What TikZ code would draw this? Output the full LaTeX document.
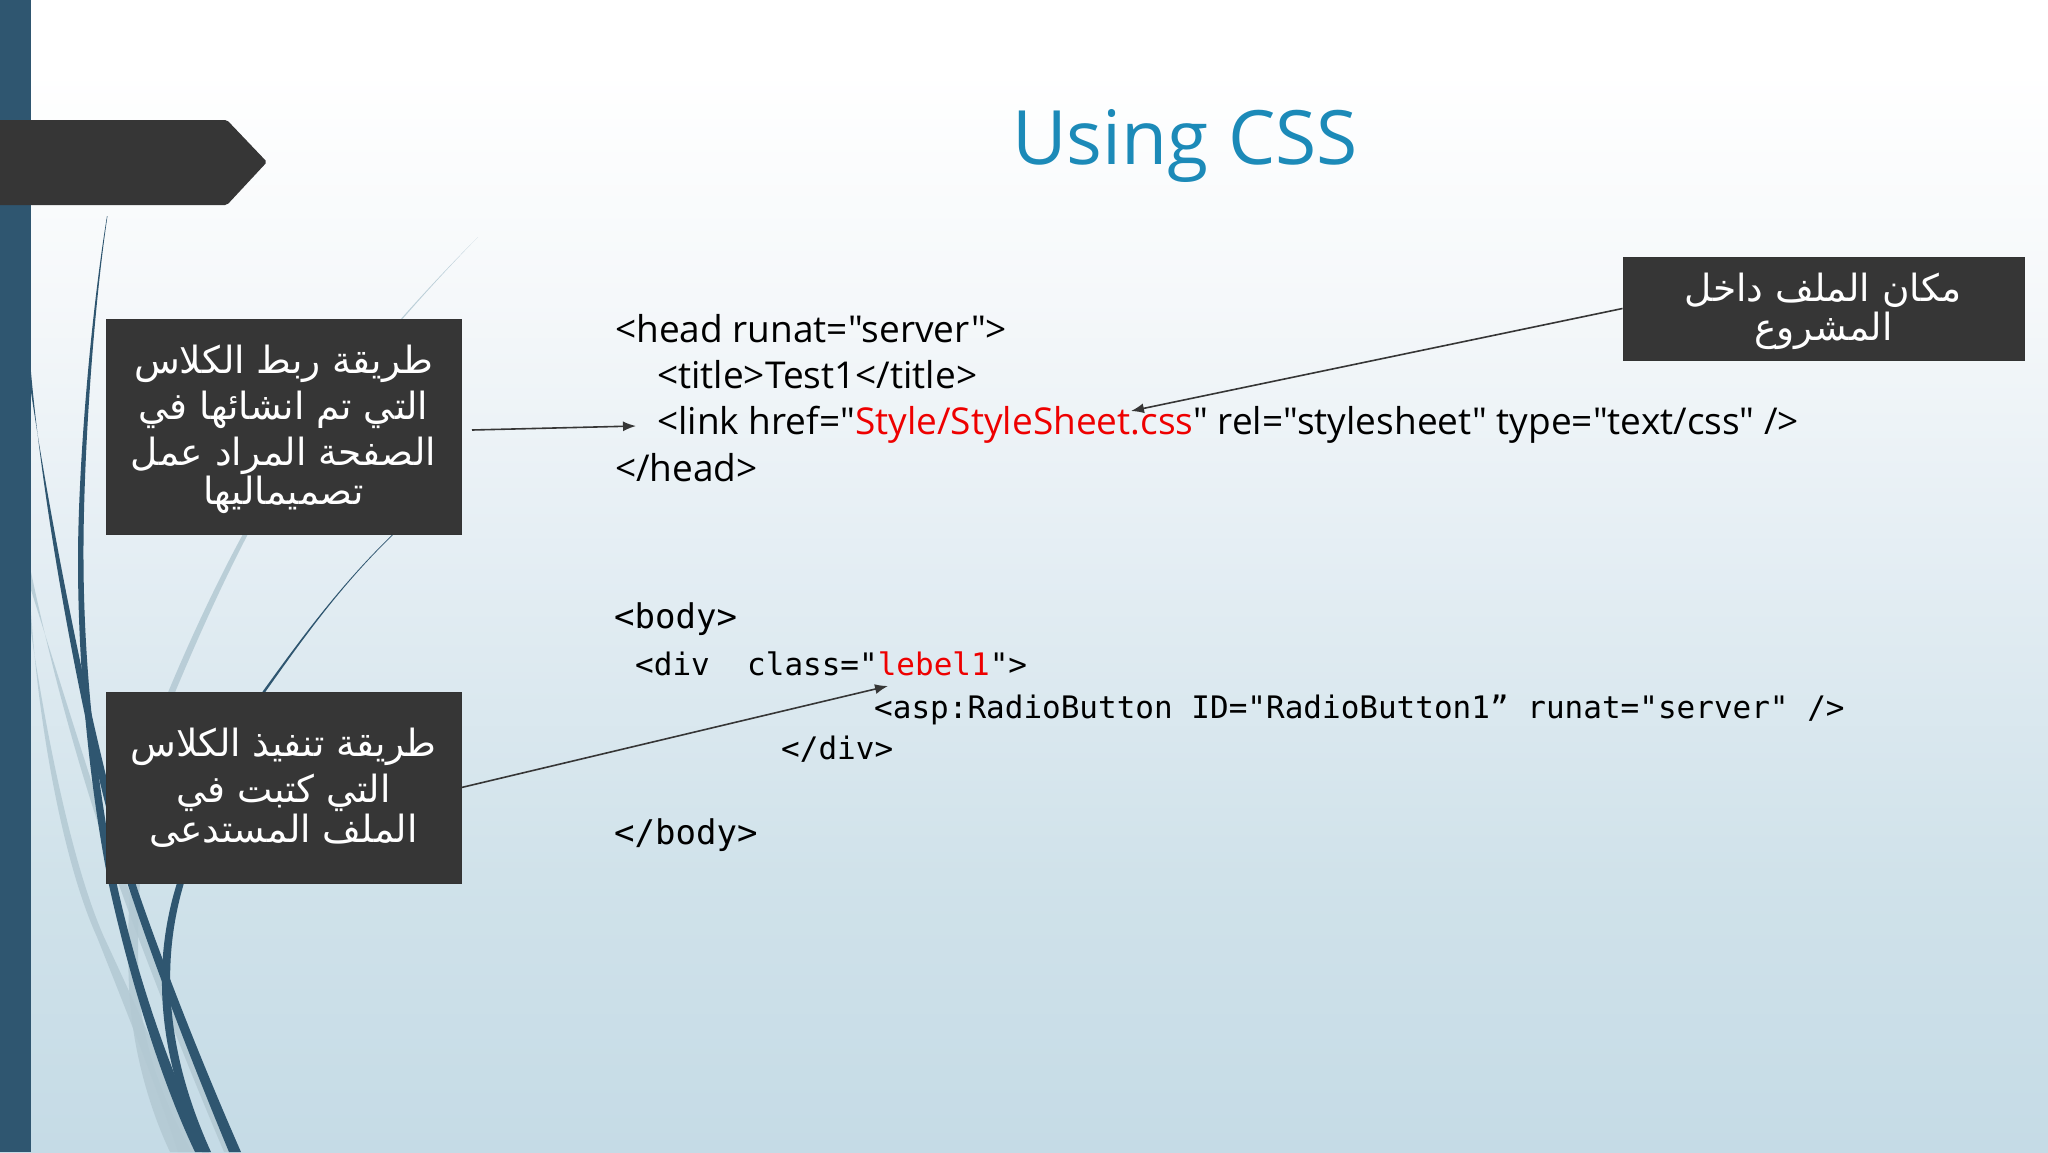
\documentclass[tikz,border=0pt]{standalone}
\usepackage{fontspec}
\usetikzlibrary{arrows.meta}
\setmainfont{Open Sans}
\newfontfamily\arabicfont[Script=Arabic]{DejaVu Sans}
\newfontfamily\codefont{Open Sans}
\newfontfamily\monofont{DejaVu Sans Mono}
\TeXXeTstate=1
\definecolor{barblue}{HTML}{2F5670}
\definecolor{lightcurve}{HTML}{B3C9D3}
\definecolor{boxdark}{HTML}{363636}
\definecolor{titleblue}{HTML}{1C8AB8}
\definecolor{codered}{HTML}{EE0000}
\definecolor{b0}{HTML}{C5DBE6}
\definecolor{b1}{HTML}{D0E2EA}
\definecolor{b2}{HTML}{E3EDF3}
\definecolor{b3}{HTML}{F5F8FA}
\pgfdeclareverticalshading{slidebg}{100bp}{color(0bp)=(b0); color(25bp)=(b0); color(37bp)=(b1); color(50bp)=(b2); color(62bp)=(b3); color(72bp)=(white); color(100bp)=(white)}
\tikzset{
  msgbox/.style={draw=black!80,fill=boxdark,text=white,line width=1pt,inner sep=0pt,minimum width=355pt,align=center,
    font=\fontsize{37.5}{46}\arabicfont},
  codeline/.style={anchor=base west,inner sep=0pt,text=black,font=\fontsize{37}{40}\codefont},
  monoline/.style={anchor=base west,inner sep=0pt,text=black,font=\fontsize{31}{36}\monofont},
  monobig/.style={monoline,font=\fontsize{34}{36}\monofont},
  conn/.style={draw=boxdark,line width=1.6pt,-{Latex[length=13pt,width=10pt]}},
  curvedark/.style={fill=barblue},
  curvelight/.style={fill=lightcurve,fill opacity=.85}
}
\begin{document}
\begin{tikzpicture}[x=1pt,y=-1pt]
\useasboundingbox (0,0) rectangle (2048,1152);
\clip (0,0) rectangle (2048,1152);
\shade[shading=slidebg] (0,0) rectangle (2048,1152);
% light curves
\fill[curvelight] (478,237) .. controls (400,315) and (300,430) .. (243,534) .. controls (218,580) and (192,635) .. (169,690) .. controls (142,760) and (124,870) .. (129,987) .. controls (132,1050) and (150,1110) .. (170,1152) -- (192,1152) .. controls (168,1110) and (142,1050) .. (139,987) .. controls (134,870) and (150,760) .. (176,690) .. controls (199,635) and (224,580) .. (248,534) .. controls (303,430) and (402,315) .. (478,237) -- cycle;
\fill[curvelight] (31,572) .. controls (58,700) and (92,810) .. (119,885) .. controls (146,960) and (185,1060) .. (224,1152) -- (238,1152) .. controls (196,1060) and (156,960) .. (127,885) .. controls (99,810) and (66,700) .. (31,590) -- cycle;
\fill[curvelight] (31,612) .. controls (38,720) and (62,860) .. (97,937) .. controls (126,1010) and (158,1090) .. (178,1152) -- (200,1152) .. controls (174,1090) and (138,1010) .. (104,937) .. controls (70,860) and (44,720) .. (31,632) -- cycle;
% dark curves
\fill[curvedark] (107,216) .. controls (90,320) and (78,470) .. (78,560) .. controls (78,700) and (96,820) .. (109,885) .. controls (131,985) and (163,1085) .. (195,1152) -- (209,1152) .. controls (175,1085) and (139,985) .. (117,885) .. controls (104,820) and (84,700) .. (83.5,560) .. controls (83,470) and (92,320) .. (107.5,216) -- cycle;
\fill[curvedark] (31,372) .. controls (44,520) and (88,760) .. (128,885) .. controls (156,970) and (195,1070) .. (229,1152) -- (241,1152) .. controls (205,1070) and (165,970) .. (136,885) .. controls (96,760) and (50,520) .. (31,392) -- cycle;
\fill[curvedark] (393,534) .. controls (340,585) and (300,640) .. (263,691) .. controls (224,750) and (193,830) .. (177,883) .. controls (156,950) and (151,1040) .. (202,1152) -- (211,1152) .. controls (160,1040) and (164,950) .. (184,883) .. controls (199,830) and (228,750) .. (266,691) .. controls (302,640) and (341,585) .. (394,534) -- cycle;
% bar and pentagon
\fill[barblue] (0,0) rectangle (31,1152);
\fill[boxdark,rounded corners=2pt] (-5,120) -- (227,120) -- (267,162) -- (227,205) -- (-5,205) -- cycle;
% title
\node[anchor=base,inner sep=0pt,text=titleblue,font=\fontsize{75}{80}\selectfont] (title) at (1185,164) {Using CSS};
% boxes
\node[msgbox,minimum height=215pt] (box1) at (283.5,426.5) {\rule{0pt}{34pt}\beginR طريقة ربط الكلاس\endR\\\beginR التي تم انشائها في\endR\\\beginR الصفحة المراد عمل\endR\\[-7pt]\beginR تصميماليها\endR};
\node[msgbox,minimum height=191pt] (box2) at (283.5,787.5) {\beginR طريقة تنفيذ الكلاس\endR\\\beginR التي كتبت في\endR\\[-6pt]\beginR الملف المستدعى\endR};
\node[msgbox,minimum width=401pt,minimum height=103pt,font=\fontsize{37.5}{39}\arabicfont] (box3) at (1823.5,308.5) {\rule{0pt}{34pt}\beginR مكان الملف داخل\endR\\\beginR المشروع\endR};
% code
\node[codeline] (h1) at (615,342) {<head runat="server">};
\node[codeline] (h2) at (657,388) {<title>Test1</title>};
\node[codeline] (h3) at (657,434) {<link href="\textcolor{codered}{Style/StyleSheet.css}" rel="stylesheet" type="text/css" />};
\node[codeline] (h4) at (615,481) {</head>};
\node[monobig] (b1) at (614,628) {<body>};
\node[monoline] (b2) at (635,675) {<div\ \ class="\textcolor{codered}{lebel1}">};
\node[monoline] (b3) at (874,718) {<asp:RadioButton ID="RadioButton1” runat="server" />};
\node[monoline] (b4) at (781,759) {</div>};
\node[monobig] (b5) at (614,844) {</body>};
% connectors
\coordinate (s1) at (472,430);
\coordinate (t1) at (636,426);
\coordinate (t2) at (1131,411);
\coordinate (t3) at (888,686);
\draw[conn] (s1) -- (t1);
\draw[conn] (box3.west) -- (t2);
\draw[conn] (box2.east) -- (t3);
\end{tikzpicture}
\end{document}
